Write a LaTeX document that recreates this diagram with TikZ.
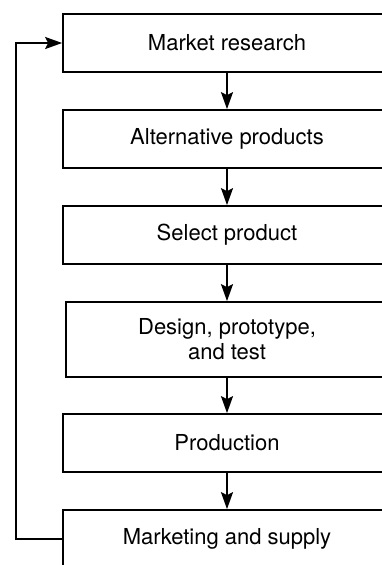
\documentclass[tikz,border=0pt]{standalone}
\usepackage{fontspec}
\setmainfont{TeX Gyre Heros}
\usetikzlibrary{arrows.meta}
\tikzset{
  stage/.style={draw, line width=1.7pt, minimum width=328pt, minimum height=58pt,
    inner sep=0pt, align=center, font=\fontsize{22}{25}\selectfont},
  flow/.style={line width=1.7pt, -{Stealth[length=17pt,width=12pt,inset=3pt]}}
}
\newcommand{\stage}[3]{\node[stage] (#1) at (227,#2) {#3};}

\begin{document}
\begin{tikzpicture}[x=1pt,y=-1pt]
        \useasboundingbox (0,0) rectangle (382,565);
        \clip (0,0) rectangle (382,565);

        % stages
        \stage{market}{43}{Market research}
        \stage{alter}{139}{Alternative products}
        \stage{select}{235}{Select product}
        \node[stage, minimum width=322pt, minimum height=75pt] (design) at (227,339.5) {Design, prototype,\\and test};
        \stage{prod}{443}{Production}
        \stage{supply}{539}{Marketing and supply}

        % arrows down
        \draw[flow] (market) -- (alter);
        \draw[flow] (alter) -- (select);
        \draw[flow] (select) -- (design);
        \draw[flow] (design) -- (prod);
        \draw[flow] (prod) -- (supply);

        % feedback
        \draw[flow] (supply.west) -- ++(-46,0) |- (market.west);
    \end{tikzpicture}
\end{document}
